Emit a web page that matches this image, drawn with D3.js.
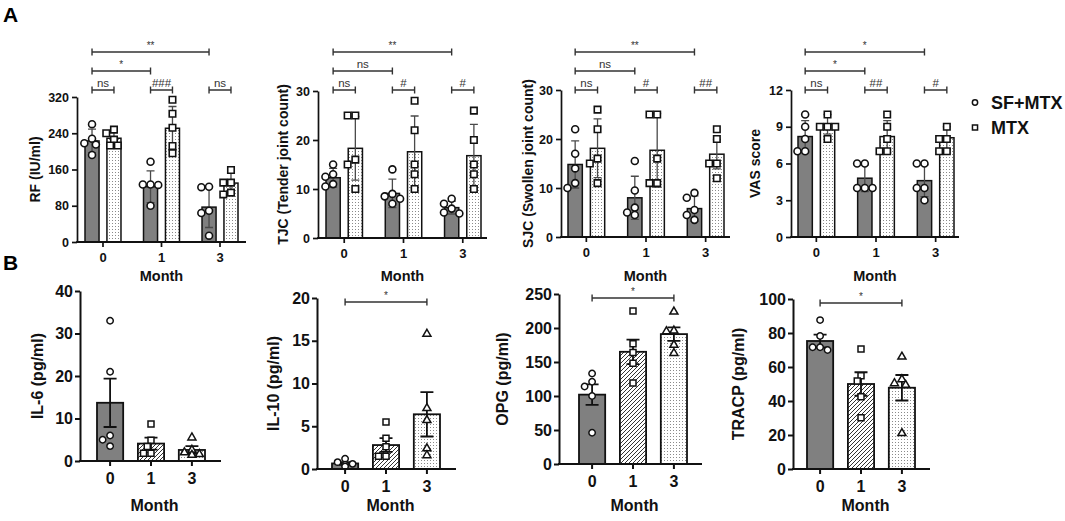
<!DOCTYPE html>
<html>
<head>
<meta charset="utf-8">
<script src="https://cdn.jsdelivr.net/npm/d3@7"></script>
<style>
  body { margin: 0; background: #fff; }
  text { font-family: "Liberation Sans", Arial, sans-serif; }
</style>
</head>
<body>
<svg id="fig" width="1065" height="521"></svg>
<script>
// ---- data ----
const months = ["0", "1", "3"];
const groups = ["SF+MTX", "MTX"];

// panel A (mean +/- SD, per month)
const rfMeanSF = [223, 122, 77],   rfSdSF = [26, 35, 45];
const rfMeanMTX = [229, 251, 130], rfSdMTX = [15, 48, 22];
const rfPtsSF = [[260, 228, 218, 215, 192], [177, 127, 127, 126, 80], [122, 121, 69, 64, 14]];
const rfPtsMTX = [[248, 240, 226, 213, 213], [314, 283, 252, 212, 196], [159, 131, 131, 109, 105]];
const rfTicks = [0, 80, 160, 240, 320];

const tjcMeanSF = [12.3, 9.1, 6.2],   tjcSdSF = [1.9, 2.9, 1.3];
const tjcMeanMTX = [18.3, 17.6, 16.8], tjcSdMTX = [6.5, 7.3, 6.4];
const tjcPtsSF = [[15, 13, 12.5, 11, 10.5], [14, 9, 8.5, 8, 7], [8, 7, 6, 5.2, 5]];
const tjcPtsMTX = [[25, 25, 16, 15, 10], [28, 22, 15, 13, 10], [26, 20, 15, 13, 10]];

const sjcMeanSF = [14.8, 8, 5.8],     sjcSdSF = [4.8, 4.4, 2.6];
const sjcMeanMTX = [18.1, 17.7, 16.9], sjcSdMTX = [6, 7.5, 3];
const sjcPtsSF = [[22, 17, 14, 11, 10], [15.5, 9.5, 6, 5, 4.5], [9, 8, 5.5, 4.5, 3.5]];
const sjcPtsMTX = [[26, 22, 16, 15, 11], [25, 25, 16, 11, 11], [22, 20, 15, 15, 12]];
const countTicks = [0, 10, 20, 30];

const vasMeanSF = [8.2, 4.8, 4.6],  vasSdSF = [1.3, 1.1, 1.3];
const vasMeanMTX = [9.2, 8.2, 8.1], vasSdMTX = [0.8, 1.3, 0.9];
const vasPtsSF = [[10, 9, 8, 7, 7], [6, 6, 4, 4, 4], [6, 6, 4, 4, 3]];
const vasPtsMTX = [[10, 9, 9, 9, 8], [10, 9, 8, 7, 7], [9, 8, 8, 7, 7]];
const vasTicks = [0, 3, 6, 9, 12];

// significance marks: [month, group, month, group, label, level]
const rfMarks = [["0", 0, "0", 1, "ns", 0], ["1", 0, "1", 1, "###", 0], ["3", 0, "3", 1, "ns", 0], ["0", 0, "1", 0, "*", 1], ["0", 0, "3", 0, "**", 2]];
const tjcMarks = [["0", 0, "0", 1, "ns", 0], ["1", 0, "1", 1, "#", 0], ["3", 0, "3", 1, "#", 0], ["0", 0, "1", 0, "ns", 1], ["0", 0, "3", 0, "**", 2]];
const sjcMarks = [["0", 0, "0", 1, "ns", 0], ["1", 0, "1", 1, "#", 0], ["3", 0, "3", 1, "##", 0], ["0", 0, "1", 0, "ns", 1], ["0", 0, "3", 0, "**", 2]];
const vasMarks = [["0", 0, "0", 1, "ns", 0], ["1", 0, "1", 1, "##", 0], ["3", 0, "3", 1, "#", 0], ["0", 0, "1", 0, "*", 1], ["0", 0, "3", 0, "*", 2]];

// panel B (mean +/- SEM)
const il6Mean = [13.7, 4.1, 2.6], il6Sem = [5.7, 1.4, 0.9];
const il6Pts = [[33, 21, 6, 5, 3.5], [8.7, 4.9, 3.4, 1.8, 1.8], [5.5, 2.6, 2, 1.6, 1.4]];
const il6Ticks = [0, 10, 20, 30, 40];

const il10Mean = [0.65, 2.8, 6.4], il10Sem = [0.15, 0.8, 2.6];
const il10Pts = [[1.2, 0.8, 0.6, 0.5, 0.3], [5.5, 3.6, 2.6, 1.5, 1.5], [15.8, 7.1, 5.7, 2.4, 1.6]];
const il10Ticks = [0, 5, 10, 15, 20];

const opgMean = [102, 165, 191], opgSem = [15, 18, 10];
const opgPts = [[133, 121, 114, 100, 46], [225, 177, 164, 148, 119], [224, 196, 195, 175, 163]];
const opgTicks = [0, 50, 100, 150, 200, 250];

const tracpMean = [75.3, 50, 47.8], tracpSem = [3.8, 6.9, 7.5];
const tracpPts = [[87.6, 78.2, 71.6, 71.6, 70], [70.6, 54.9, 51.8, 42.5, 30.2], [66, 52.7, 50.4, 49.4, 21]];
const tracpTicks = [0, 20, 40, 60, 80, 100];

// ---- drawing ----
const svg = d3.select("#fig");
const defs = svg.append("defs");

let dots = defs.append("pattern").attr("id", "dots").attr("patternUnits", "userSpaceOnUse")
  .attr("width", 3).attr("height", 3);
dots.append("rect").attr("width", 3).attr("height", 3).attr("fill", "#fff");
dots.append("rect").attr("x", 1).attr("y", 1).attr("width", 1).attr("height", 1).attr("fill", "#8a8a8a");

let hatch = defs.append("pattern").attr("id", "hatch").attr("patternUnits", "userSpaceOnUse")
  .attr("width", 4).attr("height", 4);
hatch.append("rect").attr("width", 4).attr("height", 4).attr("fill", "#fff");
hatch.append("path").attr("d", "M-1,1 l2,-2 M0,4 l4,-4 M3,5 l2,-2").attr("stroke", "#333").attr("stroke-width", 1);

const DARK = "#808080";
const font = "Liberation Sans, Arial, sans-serif";

function swarm(vals, y, cx, r) {
  const placed = [];
  return vals.map(v => {
    const py = y(v);
    for (const k of [0, -1, 1, -2, 2, -3, 3]) {
      const px = cx + k * r * 1.1;
      if (placed.every(p => Math.hypot(p[0] - px, p[1] - py) >= 1.9 * r)) {
        placed.push([px, py]);
        return [px, py];
      }
    }
    placed.push([cx, py]);
    return [cx, py];
  });
}

function drawAxes(g, p, y, ticks, xg) {
  g.append("g").attr("transform", `translate(${p.ax0},0)`)
    .call(d3.axisLeft(y).tickValues(ticks).tickSize(5).tickSizeOuter(0).tickPadding(p.ypad))
    .call(a => a.selectAll("text").attr("font-size", p.tickFs).attr("font-weight", "bold").attr("font-family", font).attr("fill", "#111"))
    .call(a => a.selectAll("line,path").attr("stroke", "#111").attr("stroke-width", p.sw));

  g.append("g").attr("transform", `translate(0,${p.yBot})`)
    .call(d3.axisBottom(xg).tickSize(5).tickSizeOuter(0).tickPadding(p.xpad))
    .call(a => a.select(".domain").remove())
    .call(a => a.selectAll("text").attr("font-size", p.xFs).attr("font-weight", "bold").attr("font-family", font).attr("fill", "#111"))
    .call(a => a.selectAll("line").attr("stroke", "#111").attr("stroke-width", p.sw));

  g.append("line").attr("x1", p.ax0 - p.sw / 2).attr("x2", p.ax1).attr("y1", p.yBot).attr("y2", p.yBot)
    .attr("stroke", "#111").attr("stroke-width", p.sw + 0.2);

  g.append("text").attr("transform", `translate(${p.lx},${(p.yTop + p.yBot) / 2}) rotate(-90)`)
    .attr("text-anchor", "middle").attr("dy", "0.35em")
    .attr("font-size", p.labFs).attr("font-weight", "bold").attr("fill", "#111").text(p.label);

  g.append("text").attr("x", (p.ax0 + p.ax1) / 2 + p.mdx).attr("y", p.monthY)
    .attr("text-anchor", "middle").attr("font-size", p.monFs).attr("font-weight", "bold").attr("fill", "#111").text("Month");
}

function bracket(g, xa, xb, yy, label) {
  g.append("path").attr("d", `M${xa},${yy - 3.5}V${yy + 3.5}M${xa},${yy}H${xb}M${xb},${yy - 3.5}V${yy + 3.5}`)
    .attr("fill", "none").attr("stroke", "#333").attr("stroke-width", 1.4);
  g.append("text").attr("x", (xa + xb) / 2).attr("y", yy - (label[0] === "*" ? 3 : 3.5))
    .attr("text-anchor", "middle").attr("font-size", label[0] === "*" ? 10 : 11.5)
    .attr("fill", "#333").text(label);
}

const aStyle = { tickFs: 12.5, xFs: 13, labFs: 14, monFs: 14.5, ypad: 3, xpad: 6, sw: 1.7 };
const bStyle = { tickFs: 16, xFs: 16, labFs: 16, monFs: 16, ypad: 2, xpad: 7, sw: 2 };

function panelA(p, means, sds, pts, ticks, marks) {
  p = Object.assign({}, aStyle, p);
  const g = svg.append("g");
  const y = d3.scaleLinear().domain([0, ticks[ticks.length - 1]]).range([p.yBot, p.yTop]);
  const xg = d3.scaleBand().domain(months).range([p.barL, p.barR]).paddingInner(0.385).paddingOuter(0);
  const xs = d3.scaleBand().domain([0, 1]).range([0, xg.bandwidth()]).paddingInner(0.36).paddingOuter(0);
  const fills = [DARK, "url(#dots)"];
  const shapes = [d3.symbolCircle, d3.symbolSquare];
  const sizes = [38, 42];

  [0, 1].forEach(s => {
    months.forEach((m, i) => {
      const x = xg(m) + xs(s), w = xs.bandwidth(), cx = x + w / 2;
      g.append("rect").attr("x", x).attr("y", y(means[s][i])).attr("width", w)
        .attr("height", y(0) - y(means[s][i])).attr("fill", fills[s]).attr("stroke", "#111").attr("stroke-width", 1.5);
      const top = y(means[s][i] + sds[s][i]), bot = y(Math.max(0, means[s][i] - sds[s][i]));
      g.append("path").attr("d", `M${cx},${top}V${bot}M${cx - 4},${top}H${cx + 4}M${cx - 4},${bot}H${cx + 4}`)
        .attr("stroke", "#4a4a4a").attr("stroke-width", 1.3).attr("fill", "none");
      swarm(pts[s][i], y, cx, 3.5).forEach(([px, py]) => {
        g.append("path").attr("d", d3.symbol(shapes[s], sizes[s])()).attr("transform", `translate(${px},${py})`)
          .attr("fill", "#fff").attr("stroke", "#111").attr("stroke-width", 1.6);
      });
    });
  });

  drawAxes(g, p, y, ticks, xg);

  const levels = [90, 71, 52];
  marks.forEach(([m1, s1, m2, s2, lab, lv]) => {
    const xa = xg(m1) + xs(s1) + xs.bandwidth() / 2;
    const xb = xg(m2) + xs(s2) + xs.bandwidth() / 2;
    bracket(g, xa, xb, levels[lv], lab);
  });
}

function panelB(p, means, sems, pts, ticks, mark) {
  p = Object.assign({}, bStyle, p);
  const g = svg.append("g");
  const y = d3.scaleLinear().domain([0, ticks[ticks.length - 1]]).range([p.yBot, p.yTop]);
  const xg = d3.scaleBand().domain(months).range([p.barL, p.barR]).paddingInner(0.36).paddingOuter(0);
  const fills = [DARK, "url(#hatch)", "url(#dots)"];
  const shapes = [d3.symbolCircle, d3.symbolSquare, d3.symbolTriangle];
  const sizes = [32, 36, 28];

  months.forEach((m, i) => {
    const x = xg(m), w = xg.bandwidth(), cx = x + w / 2;
    g.append("rect").attr("x", x).attr("y", y(means[i])).attr("width", w)
      .attr("height", y(0) - y(means[i])).attr("fill", fills[i]).attr("stroke", "#111").attr("stroke-width", 1.8);
    const top = y(means[i] + sems[i]), bot = y(Math.max(0, means[i] - sems[i]));
    g.append("path").attr("d", `M${cx},${top}V${bot}M${cx - 6.5},${top}H${cx + 6.5}M${cx - 6.5},${bot}H${cx + 6.5}`)
      .attr("stroke", "#111").attr("stroke-width", 1.8).attr("fill", "none");
    swarm(pts[i], y, cx, 3.4).forEach(([px, py]) => {
      g.append("path").attr("d", d3.symbol(shapes[i], sizes[i])()).attr("transform", `translate(${px},${py})`)
        .attr("fill", "#fff").attr("stroke", "#111").attr("stroke-width", 1.5);
    });
  });

  drawAxes(g, p, y, ticks, xg);

  if (mark) {
    bracket(g, xg(mark[0]) + xg.bandwidth() / 2, xg(mark[1]) + xg.bandwidth() / 2, p.yTop + 4, mark[2]);
  }
}

const aMonthY = 281, bMonthY = 511;
panelA({ ax0: 77, ax1: 246, barL: 85, barR: 238, yTop: 97, yBot: 242, label: "RF (IU/ml)", lx: 35, mdx: 0, monthY: aMonthY },
  [rfMeanSF, rfMeanMTX], [rfSdSF, rfSdMTX], [rfPtsSF, rfPtsMTX], rfTicks, rfMarks);
panelA({ ax0: 318, ax1: 487, barL: 326, barR: 481, yTop: 91, yBot: 238, label: "TJC (Tender joint count)", lx: 283, mdx: 0, monthY: aMonthY },
  [tjcMeanSF, tjcMeanMTX], [tjcSdSF, tjcSdMTX], [tjcPtsSF, tjcPtsMTX], countTicks, tjcMarks);
panelA({ ax0: 561, ax1: 730, barL: 568, barR: 724, yTop: 90, yBot: 237, label: "SJC (Swollen joint count)", lx: 528, mdx: 0, monthY: aMonthY },
  [sjcMeanSF, sjcMeanMTX], [sjcSdSF, sjcSdMTX], [sjcPtsSF, sjcPtsMTX], countTicks, sjcMarks);
panelA({ ax0: 791, ax1: 959, barL: 798, barR: 954, yTop: 90, yBot: 237, label: "VAS score", lx: 755, mdx: 0, monthY: aMonthY },
  [vasMeanSF, vasMeanMTX], [vasSdSF, vasSdMTX], [vasPtsSF, vasPtsMTX], vasTicks, vasMarks);

panelB({ ax0: 80, ax1: 221, barL: 97, barR: 205, yTop: 291, yBot: 461, label: "IL-6 (pg/ml)", lx: 37, mdx: 4, monthY: bMonthY },
  il6Mean, il6Sem, il6Pts, il6Ticks, null);
panelB({ ax0: 317, ax1: 456, barL: 332, barR: 440, yTop: 298, yBot: 469, label: "IL-10 (pg/ml)", lx: 273, mdx: 4, monthY: bMonthY },
  il10Mean, il10Sem, il10Pts, il10Ticks, ["0", "3", "*"]);
panelB({ ax0: 559, ax1: 702, barL: 579, barR: 687, yTop: 294, yBot: 464, label: "OPG (pg/ml)", lx: 502, mdx: 4, monthY: bMonthY },
  opgMean, opgSem, opgPts, opgTicks, ["0", "3", "*"]);
panelB({ ax0: 793, ax1: 930, barL: 807, barR: 915, yTop: 299, yBot: 469, label: "TRACP (pg/ml)", lx: 738, mdx: 4, monthY: bMonthY },
  tracpMean, tracpSem, tracpPts, tracpTicks, ["0", "3", "*"]);

// legend
const leg = svg.append("g");
[d3.symbolCircle, d3.symbolSquare].forEach((sh, i) => {
  leg.append("path").attr("d", d3.symbol(sh, i ? 26 : 22)()).attr("transform", `translate(975,${102.5 + i * 25})`)
    .attr("fill", "#fff").attr("stroke", "#111").attr("stroke-width", 1.5);
  leg.append("text").attr("x", 991).attr("y", 109 + i * 25).attr("font-size", 18).attr("font-weight", "bold")
    .attr("fill", "#111").text(groups[i]);
});

// panel letters
svg.append("text").attr("x", 3).attr("y", 22).attr("font-size", 21).attr("font-weight", "bold").text("A");
svg.append("text").attr("x", 3).attr("y", 270).attr("font-size", 21).attr("font-weight", "bold").text("B");
</script>
</body>
</html>
